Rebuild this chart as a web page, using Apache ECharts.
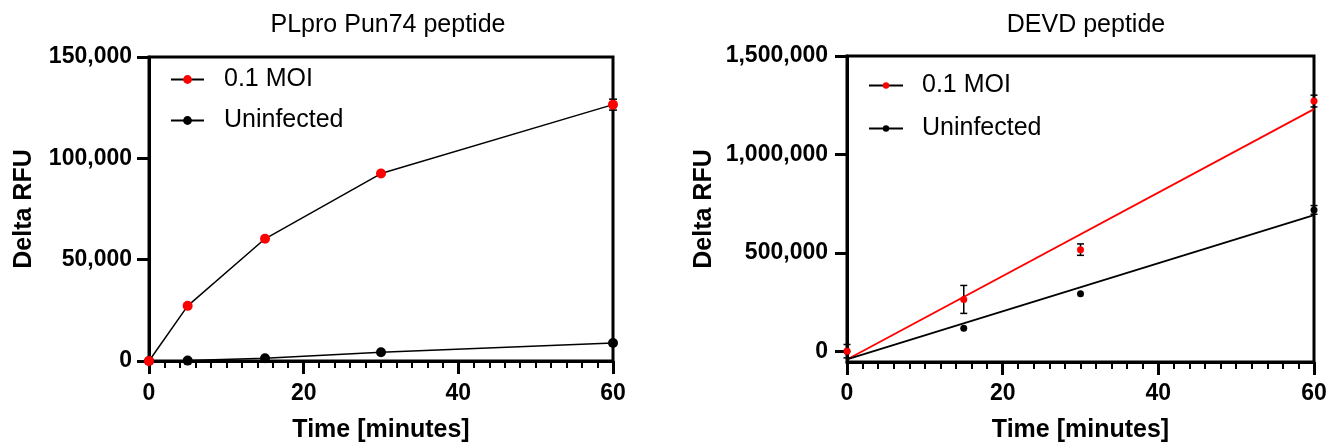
<!DOCTYPE html>
<html>
<head>
<meta charset="utf-8">
<script src="https://cdn.jsdelivr.net/npm/echarts@6/dist/echarts.min.js"></script>
<style>
html,body{margin:0;padding:0;background:#fff;}
#c{width:1341px;height:448px;}
</style>
</head>
<body>
<div id="c"></div>
<script>
// ---- data ----
const leftTitle = 'PLpro Pun74 peptide';
const rightTitle = 'DEVD peptide';
const seriesNames = ['0.1 MOI', 'Uninfected'];

const timeLeft = [0, 5, 15, 30, 60];
const moiLeft = [0, 27200, 60300, 92500, 126500];
const moiLeftErr = [0, 0, 0, 0, 2700];
const uninfLeft = [0, 200, 1400, 4300, 8900];
const uninfLeftErr = [0, 0, 0, 0, 0];

const timeRight = [0, 15, 30, 60];
const moiRight = [0, 263000, 516000, 1271000];
const moiRightErr = [34000, 71000, 29000, 30000];
const uninfRight = [0, 117000, 292000, 718000];
const uninfRightErr = [0, 0, 0, 22000];
const moiFitX = [0, 60];
const moiFitY = [-42000, 1230000];
const uninfFitX = [0, 60];
const uninfFitY = [-42000, 691000];

const xTicks = [0, 20, 40, 60];
const leftYTicks = [0, 50000, 100000, 150000];
const rightYTicks = [0, 500000, 1000000, 1500000];

// ---- helpers ----
const FONT = 'Liberation Sans, Arial, Helvetica, sans-serif';
const RED = '#ff0000';
const fmt = v => Number(v).toLocaleString('en-US');
const zip = (xs, ys) => xs.map((x, i) => [x, ys[i]]);
const zip3 = (xs, ys, es) => xs.map((x, i) => [x, ys[i], es[i]]);

function errRender(cap) {
  return function (params, api) {
    const x = api.value(0), y = api.value(1), e = api.value(2);
    if (!e) return null;
    const top = api.coord([x, y + e]);
    const bot = api.coord([x, y - e]);
    const st = {stroke: '#000', lineWidth: 1.5};
    return {
      type: 'group',
      children: [
        {type: 'line', shape: {x1: top[0], y1: top[1], x2: bot[0], y2: bot[1]}, style: st},
        {type: 'line', shape: {x1: top[0] - cap, y1: top[1], x2: top[0] + cap, y2: top[1]}, style: st},
        {type: 'line', shape: {x1: bot[0] - cap, y1: bot[1], x2: bot[0] + cap, y2: bot[1]}, style: st}
      ]
    };
  };
}

function xAxisCfg(gridIndex, margin, nameGap) {
  return {
    gridIndex, type: 'value', min: 0, max: 60, interval: 20,
    name: 'Time [minutes]', nameLocation: 'middle', nameGap,
    nameTextStyle: {fontFamily: FONT, fontWeight: 'bold', fontSize: 25, color: '#000'},
    axisLine: {show: true, onZero: false, lineStyle: {color: '#000', width: 3}},
    axisTick: {show: true, inside: false, length: 13, lineStyle: {color: '#000', width: 3}},
    minorTick: {show: true, splitNumber: 10, length: 7, lineStyle: {color: '#000', width: 2}},
    axisLabel: {fontFamily: FONT, fontWeight: 'bold', fontSize: 23, color: '#000', margin},
    splitLine: {show: false}, minorSplitLine: {show: false}
  };
}

const chart = echarts.init(document.getElementById('c'), null, {renderer: 'canvas'});

const option = {
  animation: false,
  backgroundColor: '#fff',
  title: [
    {text: leftTitle, left: 383, top: 8, textAlign: 'center',
     textStyle: {fontFamily: FONT, fontWeight: 'normal', fontSize: 25, color: '#000'}},
    {text: rightTitle, left: 1081, top: 8, textAlign: 'center',
     textStyle: {fontFamily: FONT, fontWeight: 'normal', fontSize: 25, color: '#000'}}
  ],
  legend: [
    {
      data: seriesNames, orient: 'vertical', left: 170, top: 67, padding: 0,
      itemWidth: 33, itemHeight: 11, itemGap: 16,
      textStyle: {fontFamily: FONT, fontSize: 25, color: '#000', padding: [0, 0, 0, 15]},
      seriesIndex: [0, 1]
    },
    {
      data: seriesNames, orient: 'vertical', left: 868, top: 73, padding: 0,
      itemWidth: 34, itemHeight: 8, itemGap: 18,
      textStyle: {fontFamily: FONT, fontSize: 25, color: '#000', padding: [0, 0, 0, 14]},
      seriesIndex: [4, 5]
    }
  ],
  grid: [
    {left: 149, right: 728, top: 57, bottom: 83, show: true, borderColor: '#000', borderWidth: 3, containLabel: false},
    {left: 847, right: 27, top: 56, bottom: 81, show: true, borderColor: '#000', borderWidth: 3, containLabel: false}
  ],
  xAxis: [xAxisCfg(0, 21, 57), xAxisCfg(1, 20, 56)],
  yAxis: [
    {
      gridIndex: 0, type: 'value', min: 0, max: 150000, interval: 50000,
      name: 'Delta RFU', nameLocation: 'middle', nameGap: 112,
      nameTextStyle: {fontFamily: FONT, fontWeight: 'bold', fontSize: 25, color: '#000'},
      axisLine: {show: true, onZero: false, lineStyle: {color: '#000', width: 3}},
      axisTick: {show: true, length: 12, lineStyle: {color: '#000', width: 3}},
      axisLabel: {fontFamily: FONT, fontWeight: 'bold', fontSize: 23, color: '#000', margin: 17, formatter: fmt},
      splitLine: {show: false}
    },
    {
      gridIndex: 1, type: 'value', min: -55000, max: 1500000,
      name: 'Delta RFU', nameLocation: 'middle', nameGap: 130,
      nameTextStyle: {fontFamily: FONT, fontWeight: 'bold', fontSize: 25, color: '#000'},
      axisLine: {show: true, onZero: false, lineStyle: {color: '#000', width: 3}},
      axisTick: {show: true, length: 12, customValues: rightYTicks, lineStyle: {color: '#000', width: 3}},
      axisLabel: {fontFamily: FONT, fontWeight: 'bold', fontSize: 23, color: '#000', margin: 19,
                  customValues: rightYTicks, formatter: fmt},
      splitLine: {show: false}
    }
  ],
  series: [
    // left chart
    {name: seriesNames[0], type: 'line', xAxisIndex: 0, yAxisIndex: 0, data: zip(timeLeft, moiLeft),
     symbol: 'circle', symbolSize: 10, clip: false, z: 4,
     lineStyle: {color: '#000', width: 1.5}, itemStyle: {color: RED, opacity: 1}},
    {name: seriesNames[1], type: 'line', xAxisIndex: 0, yAxisIndex: 0, data: zip(timeLeft, uninfLeft),
     symbol: 'circle', symbolSize: 10, clip: false, z: 3,
     lineStyle: {color: '#000', width: 1.5}, itemStyle: {color: '#000', opacity: 1}},
    {type: 'custom', xAxisIndex: 0, yAxisIndex: 0, renderItem: errRender(4), clip: false, z: 2,
     data: zip3(timeLeft, moiLeft, moiLeftErr)},
    {type: 'custom', xAxisIndex: 0, yAxisIndex: 0, renderItem: errRender(4), clip: false, z: 2,
     data: zip3(timeLeft, uninfLeft, uninfLeftErr)},
    // right chart fit lines
    {name: seriesNames[0], type: 'line', xAxisIndex: 1, yAxisIndex: 1, data: zip(moiFitX, moiFitY),
     symbol: 'circle', showSymbol: false, symbolSize: 7, clip: false, z: 3,
     lineStyle: {color: RED, width: 1.8}, itemStyle: {color: RED, opacity: 1}},
    {name: seriesNames[1], type: 'line', xAxisIndex: 1, yAxisIndex: 1, data: zip(uninfFitX, uninfFitY),
     symbol: 'circle', showSymbol: false, symbolSize: 7, clip: false, z: 3,
     lineStyle: {color: '#000', width: 1.8}, itemStyle: {color: '#000', opacity: 1}},
    // right chart points
    {name: seriesNames[1], type: 'scatter', xAxisIndex: 1, yAxisIndex: 1, data: zip(timeRight, uninfRight),
     symbol: 'circle', symbolSize: 7, clip: false, z: 5, itemStyle: {color: '#000', opacity: 1}},
    {name: seriesNames[0], type: 'scatter', xAxisIndex: 1, yAxisIndex: 1, data: zip(timeRight, moiRight),
     symbol: 'circle', symbolSize: 7, clip: false, z: 5, itemStyle: {color: RED, opacity: 1}},
    {type: 'custom', xAxisIndex: 1, yAxisIndex: 1, renderItem: errRender(3.5), clip: false, z: 4,
     data: zip3(timeRight, moiRight, moiRightErr)},
    {type: 'custom', xAxisIndex: 1, yAxisIndex: 1, renderItem: errRender(3.5), clip: false, z: 4,
     data: zip3(timeRight, uninfRight, uninfRightErr)}
  ]
};
chart.setOption(option);
</script>
</body>
</html>
